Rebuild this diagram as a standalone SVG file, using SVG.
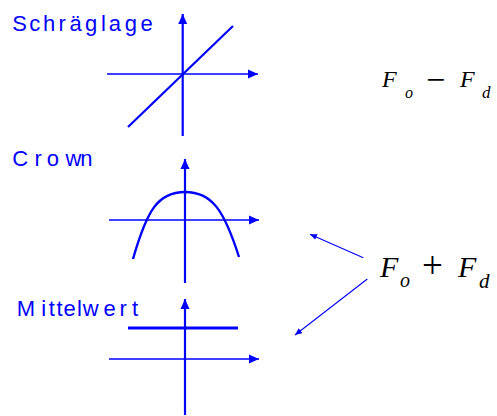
<svg xmlns="http://www.w3.org/2000/svg" width="497" height="416" viewBox="0 0 497 416">
<style>
.lbl{font-family:"Liberation Sans",Arial,sans-serif;font-size:22px;fill:#0000FF}
.ax{stroke:#0000FF;stroke-width:2.2;fill:none}
.axh{stroke:#0000FF;stroke-width:1.6;fill:none}
.crv{stroke:#0000FF;stroke-width:2.4;fill:none}
.fm{font-family:"Liberation Serif","Times New Roman",serif;font-style:italic;fill:#000}
.op{font-family:"Liberation Serif","Times New Roman",serif;fill:#000}
.thin{stroke:#0000FF;stroke-width:1.1;fill:none}
</style>
<defs>
<marker id="ah" markerUnits="userSpaceOnUse" markerWidth="12" markerHeight="10" refX="10" refY="5" orient="auto">
<polygon points="0,0.5 10,5 0,9.5" fill="#0000FF"/>
</marker>
<marker id="sh" markerUnits="userSpaceOnUse" markerWidth="8" markerHeight="6" refX="7" refY="3" orient="auto">
<polygon points="0,0 7,3 0,6" fill="#0000FF"/>
</marker>
</defs>

<g id="schraeglage">
<text class="lbl" x="12.3 29.3 43 58.4 69.5 84.9 101 108.7 124.8 140.6" y="31">Schräglage</text>
<line class="ax" x1="182.7" y1="136" x2="182.7" y2="14" marker-end="url(#ah)"/>
<line class="axh" x1="107" y1="74" x2="258" y2="74" marker-end="url(#ah)"/>
<line class="ax" x1="128" y1="127" x2="233" y2="26"/>
</g>

<g id="crown">
<text class="lbl" x="12.3 34.6 46.7 65.5 80.2" y="166">Crown</text>
<line class="ax" x1="185" y1="283" x2="185" y2="159" marker-end="url(#ah)"/>
<line class="axh" x1="109" y1="220" x2="259" y2="220" marker-end="url(#ah)"/>
<path class="crv" d="M133,259 C147,210 158,192 185,192 C212,192 224,210 239,257"/>
</g>

<g id="mittelwert">
<text class="lbl" x="16.8 41.2 48.7 56.6 63.4 77.1 82.8 103.6 119.4 132" y="316">Mittelwert</text>
<line class="ax" x1="185" y1="415" x2="185" y2="299" marker-end="url(#ah)"/>
<line class="crv" x1="128" y1="328" x2="238" y2="328" style="stroke-width:2.8"/>
<line class="axh" x1="109" y1="359" x2="259" y2="359" marker-end="url(#ah)"/>
</g>

<g id="formula-diff">
<text class="fm" x="382" y="87" font-size="24">F</text>
<text class="fm" x="405" y="98" font-size="16">o</text>
<text class="op" x="426" y="90.5" font-size="34">−</text>
<text class="fm" x="460" y="87" font-size="24">F</text>
<text class="fm" x="482" y="98" font-size="17">d</text>
</g>

<g id="formula-sum">
<text class="fm" x="380" y="277" font-size="30">F</text>
<text class="fm" x="400" y="287" font-size="20">o</text>
<text class="op" x="422" y="277.5" font-size="37">+</text>
<text class="fm" x="458" y="277" font-size="30">F</text>
<text class="fm" x="479" y="287.5" font-size="21">d</text>
</g>

<g id="connectors">
<line class="thin" x1="363.3" y1="257.7" x2="310" y2="234.3" marker-end="url(#sh)"/>
<line class="thin" x1="367.3" y1="279" x2="295" y2="335" marker-end="url(#sh)"/>
</g>
</svg>
